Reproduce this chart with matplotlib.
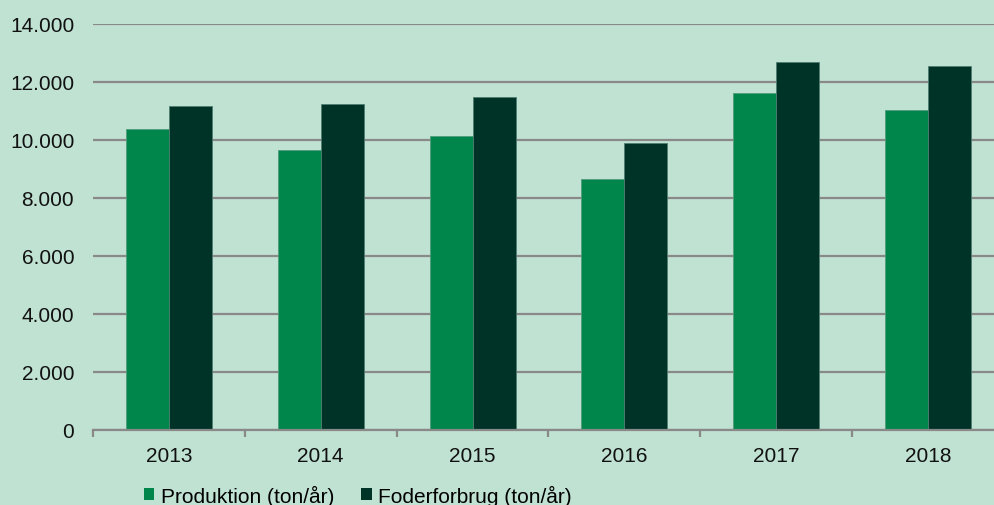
import matplotlib
matplotlib.use("Agg")
import matplotlib.pyplot as plt
import numpy as np
from matplotlib.patches import Patch
from matplotlib.ticker import FuncFormatter, FixedLocator

plt.rcParams['font.family'] = ['Liberation Sans', 'DejaVu Sans']

years = ["2013", "2014", "2015", "2016", "2017", "2018"]
produktion = [10380, 9640, 10140, 8670, 11620, 11020]
foderforbrug = [11180, 11230, 11470, 9910, 12680, 12540]
series_names = ["Produktion (ton/år)", "Foderforbrug (ton/år)"]

bg = "#C0E2D3"
c_green = "#00864A"
c_dark = "#003328"
grid_c = "#898989"

W, H = 994, 506
fig = plt.figure(figsize=(W/100, H/100), dpi=100, facecolor=bg)
left, right, top, bottom = 93, 1004, 25, 431
ax = fig.add_axes([left/W, 1-bottom/H, (right-left)/W, (bottom-top)/H])
ax.set_facecolor(bg)

x = np.arange(len(years))
bw = 0.283
ax.bar(x - bw/2, produktion, bw, color=c_green, edgecolor="#4f9c7e", linewidth=0.6, zorder=3)
ax.bar(x + bw/2, foderforbrug, bw, color=c_dark, edgecolor="#4f7f72", linewidth=0.6, zorder=3)

ax.set_xlim(-0.5, len(years)-0.5)
ax.set_ylim(0, 14000)
ax.set_yticks(np.arange(0, 14001, 2000))
ax.yaxis.set_major_formatter(FuncFormatter(lambda v, p: f"{int(v):,}".replace(",", ".")))
ax.yaxis.grid(True, color=grid_c, linewidth=1.6, zorder=0)
ax.tick_params(axis='y', length=0, pad=13.5, labelsize=15, labelcolor="#111111")

ax.set_xticks(x)
ax.set_xticklabels(years)
ax.tick_params(axis='x', which='major', length=0, pad=11.5, labelsize=15, labelcolor="#111111")
ax.xaxis.set_minor_locator(FixedLocator(np.arange(-0.5, len(years), 1.0)))
ax.tick_params(axis='x', which='minor', length=5, width=1.6, color=grid_c)

for s in ['left', 'right', 'top']:
    ax.spines[s].set_visible(False)
ax.spines['bottom'].set_color(grid_c)
ax.spines['bottom'].set_linewidth(1.6)
ax.spines['bottom'].set_zorder(4)

handles = [Patch(facecolor=c_green, edgecolor='none'), Patch(facecolor=c_dark, edgecolor='none')]
fig.legend(handles, series_names, loc='center left', bbox_to_anchor=(144/W, 1-496/H),
           ncol=2, frameon=False, fontsize=15, handlelength=0.5, handleheight=0.5,
           handletextpad=0.3, columnspacing=1.3, borderaxespad=0, borderpad=0)

fig.savefig("out.png", dpi=100, facecolor=bg)
